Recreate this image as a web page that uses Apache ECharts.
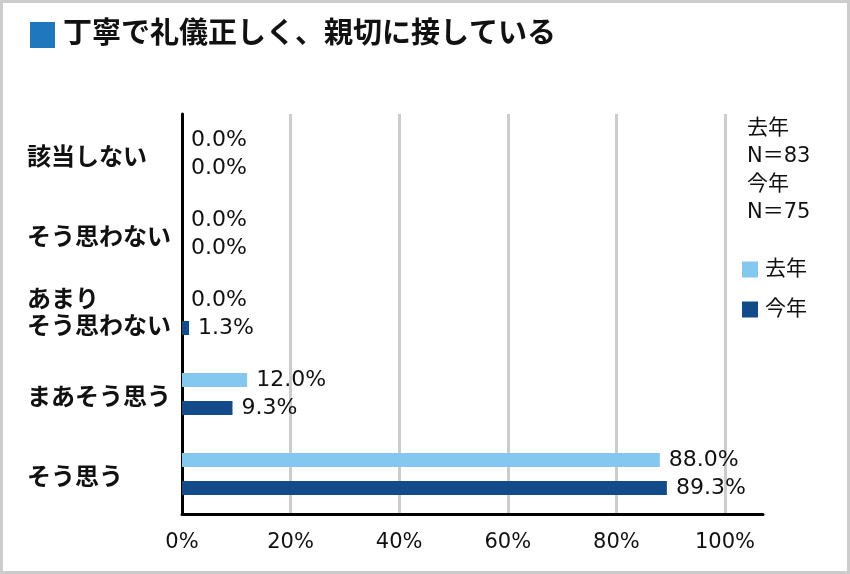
<!DOCTYPE html>
<html>
<head>
<meta charset="utf-8">
<script src="https://cdn.jsdelivr.net/npm/echarts@6/dist/echarts.min.js"></script>
<style>
  html, body { margin: 0; padding: 0; background: #fff; }
  #chart { width: 850px; height: 574px; }
</style>
</head>
<body>
<div id="chart"></div>
<script>
// 回答カテゴリ（上から順）
var categories = ['該当しない', 'そう思わない', 'あまり\nそう思わない', 'まあそう思う', 'そう思う'];
var seriesNames = ['去年', '今年'];
var lastYear = [0.0, 0.0, 0.0, 12.0, 88.0];
var thisYear = [0.0, 0.0, 1.3, 9.3, 89.3];
var xTicks = [0, 20, 40, 60, 80, 100];
var titleText = '丁寧で礼儀正しく、親切に接している';
var noteText = '去年\nN＝83\n今年\nN＝75';

var chart = echarts.init(document.getElementById('chart'));

var font = "'DejaVu Sans', 'Noto Sans CJK JP', sans-serif";

var labelOpt = {
    show: true,
    position: 'right',
    distance: 9,
    color: '#111',
    fontSize: 22,
    fontFamily: font,
    formatter: function (p) { return p.value.toFixed(1) + '%'; }
};

var option = {
    animation: false,
    textStyle: { fontFamily: font, color: '#111' },
    title: [{
        left: 30,
        top: 18,
        padding: 0,
        text: '{sq|}{t|' + titleText + '}',
        textStyle: {
            rich: {
                sq: { width: 25, height: 26, backgroundColor: '#1f78be' },
                t: { fontSize: 29, fontWeight: 'bold', color: '#111', fontFamily: font, padding: [0, 0, 0, 8], lineHeight: 34 }
            }
        }
    }, {
        left: 747,
        top: 115,
        padding: 0,
        text: noteText,
        textStyle: { fontSize: 21, lineHeight: 28, fontWeight: 'normal', color: '#111', fontFamily: font }
    }],
    legend: {
        orient: 'vertical',
        left: 742,
        top: 259,
        padding: 0,
        itemWidth: 16,
        itemHeight: 16,
        itemGap: 19,
        icon: 'rect',
        data: seriesNames,
        textStyle: { fontSize: 21, color: '#111', lineHeight: 20, padding: [0, 0, 0, 2] }
    },
    grid: { left: 182, right: 87, top: 114, bottom: 60, containLabel: false },
    xAxis: {
        type: 'value',
        min: xTicks[0],
        max: 107,
        interval: 20,
        axisLine: { show: true, lineStyle: { color: '#000', width: 3 } },
        axisTick: { show: false },
        axisLabel: {
            showMaxLabel: false,
            margin: 18,
            fontSize: 21,
            color: '#111',
            formatter: function (v) { return xTicks.indexOf(v) >= 0 ? v + '%' : ''; }
        },
        splitLine: { show: true, showMaxLine: false, lineStyle: { color: '#cccccc', width: 3 } }
    },
    yAxis: {
        type: 'category',
        inverse: true,
        data: categories,
        axisLine: { show: true, lineStyle: { color: '#000', width: 3 } },
        axisTick: { show: false },
        axisLabel: {
            align: 'left',
            margin: 155,
            fontSize: 24,
            fontWeight: 'bold',
            lineHeight: 27,
            color: '#111',
            formatter: function (v) {
                return v.indexOf('\n') >= 0 ? v : '{s|' + v + '}';
            },
            rich: {
                s: { fontSize: 24, fontWeight: 'bold', lineHeight: 27, padding: [10, 0, 0, 0], color: '#111' }
            }
        }
    },
    series: [{
        name: seriesNames[0],
        type: 'bar',
        data: lastYear,
        barWidth: 14,
        barGap: '100%',
        itemStyle: { color: '#84c8f0' },
        label: labelOpt
    }, {
        name: seriesNames[1],
        type: 'bar',
        data: thisYear,
        barWidth: 14,
        barGap: '100%',
        itemStyle: { color: '#134b8a' },
        label: labelOpt
    }],
    graphic: [{
        type: 'rect',
        silent: true,
        shape: { x: 1.5, y: 1.5, width: 847, height: 571 },
        style: { fill: 'none', stroke: '#cccccc', lineWidth: 3 }
    }]
};

chart.setOption(option);
</script>
</body>
</html>
